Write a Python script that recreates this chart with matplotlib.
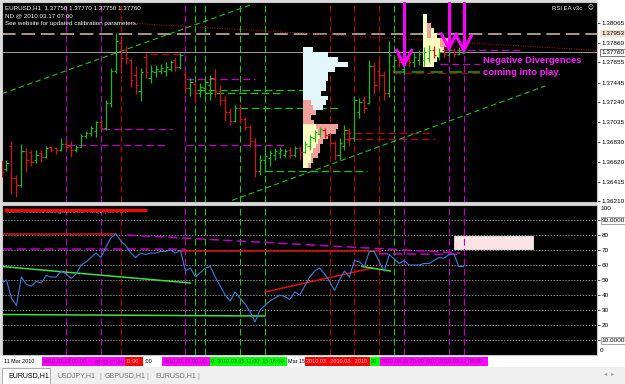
import matplotlib
matplotlib.use('Agg')
import matplotlib.pyplot as plt
from matplotlib.patches import Rectangle
from matplotlib.transforms import Bbox, TransformedBbox

plt.rcParams['font.family'] = ['Liberation Sans', 'DejaVu Sans']

# ---------------- data ----------------
opens = [1.3661,1.3655,1.3679,1.3645,1.3638,1.3673,1.3672,1.3664,1.3671,1.3667,
         1.3677,1.3676,1.3674,1.3681,1.3679,1.3674,1.3678,1.3689,1.3692,1.3694,
         1.3704,1.3697,1.3723,1.3757,1.3786,1.3778,1.3768,1.3752,1.3736,1.3771,
         1.3749,1.3755,1.3757,1.3757,1.3759,1.3768,1.3761,1.3753,1.3739,1.3743,
         1.3734,1.3739,1.3742,1.3749,1.3736,1.3726,1.3714,1.3705,1.3718,1.3707,
         1.3698,1.3684,1.3653,1.3664,1.3666,1.3669,1.3671,1.3669,1.3674,1.3669,
         1.3676,1.3672,1.3679,1.3687,1.3691,1.3695,1.3690,1.3682,1.3669,1.3679,
         1.3695,1.3687,1.3714,1.3726,1.3723,1.3762,1.3757,1.3752,1.3734,1.3762,
         1.3771,1.3759,1.3771,1.3766,1.3768,1.3768,1.3770,1.3778,1.3771,1.3778,
         1.3773,1.3778,1.3774,1.3775]
highs = [1.3664,1.3664,1.3684,1.3648,1.3681,1.3676,1.3674,1.3674,1.3674,1.3679,
         1.3679,1.3678,1.3687,1.3684,1.3684,1.3680,1.3691,1.3694,1.3699,1.3705,
         1.3705,1.3726,1.3760,1.3796,1.3792,1.3783,1.3770,1.3762,1.3760,1.3775,
         1.3763,1.3763,1.3764,1.3766,1.3768,1.3770,1.3775,1.3755,1.3749,1.3745,
         1.3744,1.3749,1.3752,1.3759,1.3742,1.3731,1.3718,1.3721,1.3722,1.3709,
         1.3700,1.3687,1.3669,1.3672,1.3674,1.3676,1.3677,1.3675,1.3677,1.3679,
         1.3679,1.3684,1.3690,1.3695,1.3698,1.3697,1.3692,1.3684,1.3687,1.3700,
         1.3697,1.3731,1.3728,1.3731,1.3768,1.3766,1.3768,1.3757,1.3788,1.3773,
         1.3773,1.3773,1.3774,1.3775,1.3778,1.3781,1.3784,1.3783,1.3780,1.3783,
         1.3782,1.3780,1.3782,1.3777]
lows = [1.3646,1.3653,1.3629,1.3625,1.3636,1.3651,1.3658,1.3661,1.3662,1.3666,
        1.3672,1.3670,1.3673,1.3674,1.3667,1.3672,1.3677,1.3687,1.3689,1.3688,
        1.3695,1.3695,1.3719,1.3754,1.3754,1.3764,1.3740,1.3733,1.3725,1.3749,
        1.3744,1.3750,1.3753,1.3751,1.3757,1.3757,1.3759,1.3734,1.3731,1.3723,
        1.3730,1.3732,1.3726,1.3729,1.3721,1.3705,1.3700,1.3703,1.3702,1.3695,
        1.3677,1.3646,1.3648,1.3653,1.3658,1.3664,1.3666,1.3667,1.3666,1.3667,
        1.3664,1.3671,1.3674,1.3683,1.3688,1.3687,1.3679,1.3664,1.3664,1.3674,
        1.3679,1.3684,1.3708,1.3713,1.3722,1.3733,1.3742,1.3726,1.3729,1.3755,
        1.3761,1.3752,1.3761,1.3761,1.3763,1.3762,1.3766,1.3770,1.3768,1.3771,
        1.3772,1.3771,1.3773,1.3775]
closes = [1.3651,1.3661,1.3645,1.3638,1.3673,1.3664,1.3662,1.3669,1.3667,1.3676,
          1.3674,1.3674,1.3681,1.3678,1.3674,1.3678,1.3689,1.3692,1.3697,1.3703,
          1.3697,1.3723,1.3757,1.3788,1.3770,1.3770,1.3747,1.3742,1.3755,1.3755,
          1.3757,1.3759,1.3760,1.3761,1.3766,1.3761,1.3773,1.3739,1.3745,1.3734,
          1.3740,1.3745,1.3749,1.3736,1.3726,1.3714,1.3705,1.3718,1.3707,1.3698,
          1.3684,1.3653,1.3664,1.3668,1.3671,1.3673,1.3674,1.3673,1.3669,1.3676,
          1.3672,1.3681,1.3688,1.3693,1.3696,1.3690,1.3682,1.3669,1.3682,1.3695,
          1.3687,1.3726,1.3724,1.3718,1.3762,1.3742,1.3752,1.3734,1.3773,1.3768,
          1.3766,1.3768,1.3766,1.3771,1.3774,1.3776,1.3778,1.3773,1.3776,1.3774,
          1.3778,1.3774,1.3778,1.3776]
rsi = [48,50,38,33,52,47,46,49,48,53,
       52,52,56,54,51,54,60,62,65,68,
       65,72,78,81,76,73,68,65,68,67,
       68,68,69,69,70,68,70,56,58,52,
       55,58,59,52,46,40,36,42,38,34,
       29,22,30,33,36,38,40,39,37,42,
       40,46,52,56,58,54,49,43,50,56,
       52,63,62,59,69,69,62,56,67,64,
       61,63,60,60,60,61,61,63,65,64.5,
       67,67.5,59,59]

price_ticks = [1.38065,1.37860,1.37655,1.37445,1.37240,1.37035,1.36830,1.36620,1.36415,1.36210]
price_tick_labels = ['1.38065','1.37860','1.37655','1.37445','1.37240','1.37035','1.36830','1.36620','1.36415','1.36210']
rsi_ticks = [10,20,30,40,50,60,70,80,90]
rsi_tick_labels = ['10.0000','20','30','40','50','60','70','80','90.0000']

# vertical event lines (bar index)
vl_magenta = [13, 20, 37, 81, 90, 93]
vl_red = [24, 66, 71, 76]
vl_green = [39, 41, 48, 53, 79]

# horizontal dashed segments: (start bar, end bar, price)
hs_magenta = [(20.2,34.3,1.3696),(13.2,33.5,1.3680),(37.1,57,1.3680),(37.1,51,1.3748),
              (89.2,104.3,1.3778),(88.2,96.3,1.3764)]
hs_red = [(29.9,36.9,1.3774),(68.7,86.2,1.3692),(68.7,87.2,1.3686),(78.8,96.3,1.3754)]
hs_green = [(39.3,61.1,1.3737),(40.9,56,1.3734),(48,68.1,1.3718),(53,73.5,1.3653)]
hs_dkgreen = [(78.8,96.3,1.3756)]

# channel lines
chan_up = ([0.1, 50.0], [1.3733, 1.3825])
chan_lo = ([46.4, 109.4], [1.3622, 1.3741])
red_dot = ([25.3, 119.8], [1.38065, 1.3778])

# market profiles
p1_start = 60.7
cyan_lv = [1.3776,1.3771,1.3766,1.3761,1.3756,1.3751,1.3746,1.3741,1.3736,1.3731,1.3726,1.3721,1.3716]
cyan_w = [2.0,5.0,7.0,9.0,6.4,5.0,5.0,4.6,4.6,3.6,5.0,4.6,4.0]
salm_lv = [1.3721,1.3716,1.3711,1.3706,1.3701,1.3696,1.3691,1.3686,1.3681,1.3676,1.3671,1.3666,1.3661,1.3656]
salm_w = [1.6,2.0,2.6,1.6,2.2,7.0,6.6,5.0,4.0,3.4,3.4,3.0,2.0,1.5]
yel_lv = [1.3696,1.3691,1.3686,1.3681,1.3676,1.3671,1.3666,1.3661,1.3656]
yel_w = [2.6,3.0,3.4,3.0,2.6,2.0,1.6,1.6,1.0]
p2_start = 84.7
p2_yel_lv = [1.3811,1.3806,1.3801,1.3796,1.3791,1.3786,1.3781,1.3776,1.3771,1.3766,1.3761]
p2_yel_w = [0.9,0.9,1.0,2.4,3.0,4.0,4.6,4.4,3.6,3.0,2.4]
p2_salm = [(85.6,0.9,1.3801),(85.6,0.9,1.3796),(85.6,0.9,1.3791),(88.2,1.6,1.3786),(88.2,1.6,1.3781)]

arrow_i = [81, 90, 93]
arrow_tip = [1.3763, 1.3780, 1.3778]

# RSI panel objects
rsi_red = [([0.3,22.8],[80.7,80.7]), ([35.9,76.2],[69.5,69.5]), ([53,74.6],[42,58])]
rsi_green = [([0.1,38],[59,48]), ([0.1,53],[27,26]), ([72.5,78.2],[59,56])]
rsi_mag = [([0.3,37],[70.7,70.7]), ([25.3,92.3],[80,68]), ([76,92.3],[67.5,67])]

# time-axis label boxes: (x0, x1, fill, text, text colour) in window pixels
time_boxes = [(3, 40, None, '11 Mar 2010', 'black'),
              (42, 92, '#ff00ff', '2010.03.12 00:00', '#700070'),
              (92, 125, '#ff00ff', ',03-12 07:00', '#700070'),
              (125, 143, '#ff0000', '11:00', '#ffd0d0'),
              (144, 158, None, ':00', 'black'),
              (162, 210, '#ff00ff', '2010.03.15 00:00', '#700070'),
              (210, 287, '#00ff00', '0: 2010.03.15 11:00  15 16:00', '#006000'),
              (287, 305, None, 'Mar 15', 'black'),
              (305, 370, '#ff0000', '2010.03.  2010.03.  2010', '#ffd0d0'),
              (370, 380, '#00ff00', '20', '#006000'),
              (380, 488, '#ff00ff', '2010.03.16 20:00  010  2010.03.17 08:00', '#700070')]

# ---------------- figure ----------------
W, H = 625, 384
fig = plt.figure(figsize=(6.25, 3.84), dpi=100, facecolor='#dcdcdc')
def fx(x): return x / W
def fy(y): return 1 - y / H

# background strips
fig.patches.append(Rectangle((fx(597), fy(367)), 1 - fx(597), 367 / H, transform=fig.transFigure,
                             facecolor='white', edgecolor='none', zorder=-1))
fig.patches.append(Rectangle((0, fy(367)), 1, 12 / H, transform=fig.transFigure,
                             facecolor='white', edgecolor='none', zorder=-1))
fig.patches.append(Rectangle((0, 0), 1, 17 / H, transform=fig.transFigure,
                             facecolor='#f0f0f0', edgecolor='none', zorder=-1))

ax1 = fig.add_axes([fx(2), fy(202), 595 / W, 200 / H])
ax2 = fig.add_axes([fx(2), fy(355), 595 / W, 150 / H])
XL = (0.1, 119.8)
for ax in (ax1, ax2):
    ax.set_facecolor('black')
    ax.set_xlim(*XL)
    ax.set_xticks([])
    for s in ax.spines.values():
        s.set_color('#c8c8c8'); s.set_linewidth(0.8)
    ax.yaxis.tick_right()
    ax.tick_params(axis='y', length=2, width=0.5, colors='black', labelsize=4.6, pad=1.5)

ax1.set_ylim(1.36203, 1.38283)
ax1.set_yticks(price_ticks)
ax1.set_yticklabels(price_tick_labels)
ax2.set_ylim(0, 100)
ax2.set_yticks(rsi_ticks)
ax2.set_yticklabels(rsi_tick_labels)
for lab in ax2.get_yticklabels():
    if lab.get_text() in ('10.0000', '90.0000'):
        lab.set_bbox(dict(boxstyle='square,pad=0.15', fc='white', ec='#808080', lw=0.5))

dash = (0, (6, 3))
# vertical lines in both panels
for ax in (ax1, ax2):
    for v in vl_magenta:
        ax.axvline(v, color='#c000c0', lw=0.8, ls=dash, zorder=1)
    for v in vl_red:
        ax.axvline(v, color='#b00000', lw=0.8, ls=dash, zorder=1)
    for v in vl_green:
        ax.axvline(v, color='#20c020', lw=0.8, ls=dash, zorder=1)

# horizontal reference lines
ax1.axhline(1.37760, color='#b8b8b8', lw=0.6, zorder=1)
ax1.axhline(1.37953, color='#a89888', lw=1.4, ls=(0, (7, 3)), zorder=1)
for a, b, p in hs_magenta:
    ax1.plot([a, b], [p, p], color='#c000c0', lw=0.9, ls=dash, zorder=2)
for a, b, p in hs_red:
    ax1.plot([a, b], [p, p], color='#b00000', lw=0.9, ls=dash, zorder=2)
for a, b, p in hs_green:
    ax1.plot([a, b], [p, p], color='#20c020', lw=0.9, ls=dash, zorder=2)
for a, b, p in hs_dkgreen:
    ax1.plot([a, b], [p, p], color='#108010', lw=1.5, ls=dash, zorder=2)
ax1.plot(*chan_up, color='#20c020', lw=0.8, ls=(0, (5, 3)), zorder=2)
ax1.plot(*chan_lo, color='#20c020', lw=0.8, ls=(0, (5, 3)), zorder=2)
ax1.plot(*red_dot, color='#c01010', lw=0.7, ls=(0, (1, 1.5)), zorder=2)

# profiles
BH = 0.0005
ax1.barh(cyan_lv, cyan_w, left=p1_start, height=BH, align='edge', color='#e2f6fb', zorder=2)
ax1.barh(salm_lv, salm_w, left=p1_start, height=BH, align='edge', color='#f2a09a', zorder=2.1)
ax1.barh(yel_lv, yel_w, left=p1_start, height=BH, align='edge', color='#fdfdc0', zorder=2.2)
ax1.barh(p2_yel_lv, p2_yel_w, left=p2_start, height=BH, align='edge', color='#fdfdc0', zorder=2)
for l, w, p in p2_salm:
    ax1.barh([p], [w], left=l, height=BH, align='edge', color='#f2a09a', zorder=2.1)

# OHLC bars
xs = list(range(len(closes)))
cols = ['#22b422' if c >= o else '#c81818' for o, c in zip(opens, closes)]
ax1.vlines(xs, lows, highs, colors=cols, lw=0.9, zorder=3)
ax1.hlines(opens, [x - 0.45 for x in xs], xs, colors=cols, lw=0.9, zorder=3)
ax1.hlines(closes, xs, [x + 0.45 for x in xs], colors=cols, lw=0.9, zorder=3)

# arrows
for ai, tip in zip(arrow_i, arrow_tip):
    ax1.plot([ai, ai], [1.3830, tip], color='#ff00ff', lw=2.2, zorder=5, solid_capstyle='butt')
    ax1.plot([ai - 1.5, ai, ai + 1.5], [tip + 0.0015, tip, tip + 0.0015], color='#ff00ff',
             lw=2.2, zorder=5, solid_joinstyle='miter')

ax1.text(96.8, 1.3772, 'Negative Divergences\ncoming into play.', color='#ff20ff',
         fontsize=6.8, fontweight='bold', va='top', ha='left', linespacing=1.35, zorder=6)

# boxed price labels
ax1.annotate('1.37953', xy=(1, 1.37953), xycoords=('axes fraction', 'data'), xytext=(3.2, 0),
             textcoords='offset points', va='center', ha='left', fontsize=4.6,
             bbox=dict(boxstyle='square,pad=0.15', fc='#f3e3cf', ec='none'), annotation_clip=False)
ax1.annotate('1.37760', xy=(1, 1.37760), xycoords=('axes fraction', 'data'), xytext=(3.2, 0),
             textcoords='offset points', va='center', ha='left', fontsize=4.6,
             bbox=dict(boxstyle='square,pad=0.15', fc='white', ec='#404040', lw=0.5), annotation_clip=False)

# top-left info texts
fig.text(fx(5), fy(8), 'EURUSD,H1  1.37750 1.37770 1.37750 1.37760', color='white', fontsize=4.5, va='center')
fig.text(fx(5), fy(15.5), 'ND @ 2010.03.17 07:00', color='white', fontsize=4.5, va='center')
fig.text(fx(5), fy(23), 'See website for updated calibration parameters.', color='white', fontsize=4.5, va='center')
fig.text(fx(552), fy(8), 'RSI EA v3c', color='white', fontsize=4.3, va='center')
fig.text(fx(587), fy(8), '\u263a', color='white', fontsize=4.0, va='center', family=['DejaVu Sans'])

# RSI panel
for v in rsi_ticks:
    ax2.axhline(v, color='#b4b4b4', lw=0.6, ls=(0, (1.5, 2)), zorder=0.5)
for xx, yy in rsi_red:
    ax2.plot(xx, yy, color='#e01010', lw=1.1, zorder=2)
for xx, yy in rsi_green:
    ax2.plot(xx, yy, color='#40e040', lw=1.1, zorder=2)
for xx, yy in rsi_mag:
    ax2.plot(xx, yy, color='#c000c0', lw=1.1, ls=(0, (6, 3)), zorder=2)
ax2.add_patch(Rectangle((91, 70.7), 16, 8.6, facecolor='#fde3e3', edgecolor='white', lw=0.5, zorder=2))
ax2.axvline(93, color='#c000c0', lw=0.8, ls=dash, zorder=2.5)
ax2.plot(xs, rsi, color='#3c7ed6', lw=0.8, zorder=3)
ax2.plot([0.5, 29.3], [96.7, 96.7], color='#ff0000', lw=2.2, zorder=3, solid_capstyle='butt')
ax2.text(0.8, 96.2, '\u00a92009 Validated Divergences RSI Fast(14) 59.8477', color='#d0d0d0',
         fontsize=3.8, va='center', zorder=2.5)
fig.text(fx(600), fy(209), '100', fontsize=4.6, va='center')
fig.text(fx(600), fy(350), '0', fontsize=4.6, va='center')

# time axis labels (clipped to their boxes)
for x0, x1, fc, txt, tc in time_boxes:
    if fc is not None:
        fig.patches.append(Rectangle((fx(x0), fy(366)), (x1 - x0) / W, 9 / H, transform=fig.transFigure,
                                     facecolor=fc, edgecolor='none', zorder=-0.5))
    t = fig.text(fx(x0 + 1), fy(361.5), txt, color=tc, fontsize=3.9, va='center', ha='left')
    t.set_clip_on(True)
    t.set_clip_box(TransformedBbox(Bbox([[fx(x0), fy(366)], [fx(x1), fy(357)]]), fig.transFigure))

# tabs
fig.patches.append(Rectangle((fx(2), 0), 48 / W, 16 / H, transform=fig.transFigure,
                             facecolor='white', edgecolor='#a0a0a0', lw=0.6, zorder=-0.5))
fig.text(fx(8), fy(376), 'EURUSD,H1', fontsize=5, va='center', color='black')
fig.text(fx(58), fy(376), 'USDJPY,H1', fontsize=5, va='center', color='#707070')
fig.text(fx(105), fy(376), 'GBPUSD,H1', fontsize=5, va='center', color='#707070')
fig.text(fx(155), fy(376), 'EURUSD,H1', fontsize=5, va='center', color='#707070')
for sx in (99, 146, 197):
    fig.text(fx(sx), fy(376), '|', fontsize=5, va='center', color='#a0a0a0')
fig.text(fx(604), fy(374), '\u25c2  \u25b8', fontsize=4.5, va='center', color='#a0a0a0', family=['DejaVu Sans'])

fig.savefig('out.png', dpi=100, facecolor=fig.get_facecolor())
